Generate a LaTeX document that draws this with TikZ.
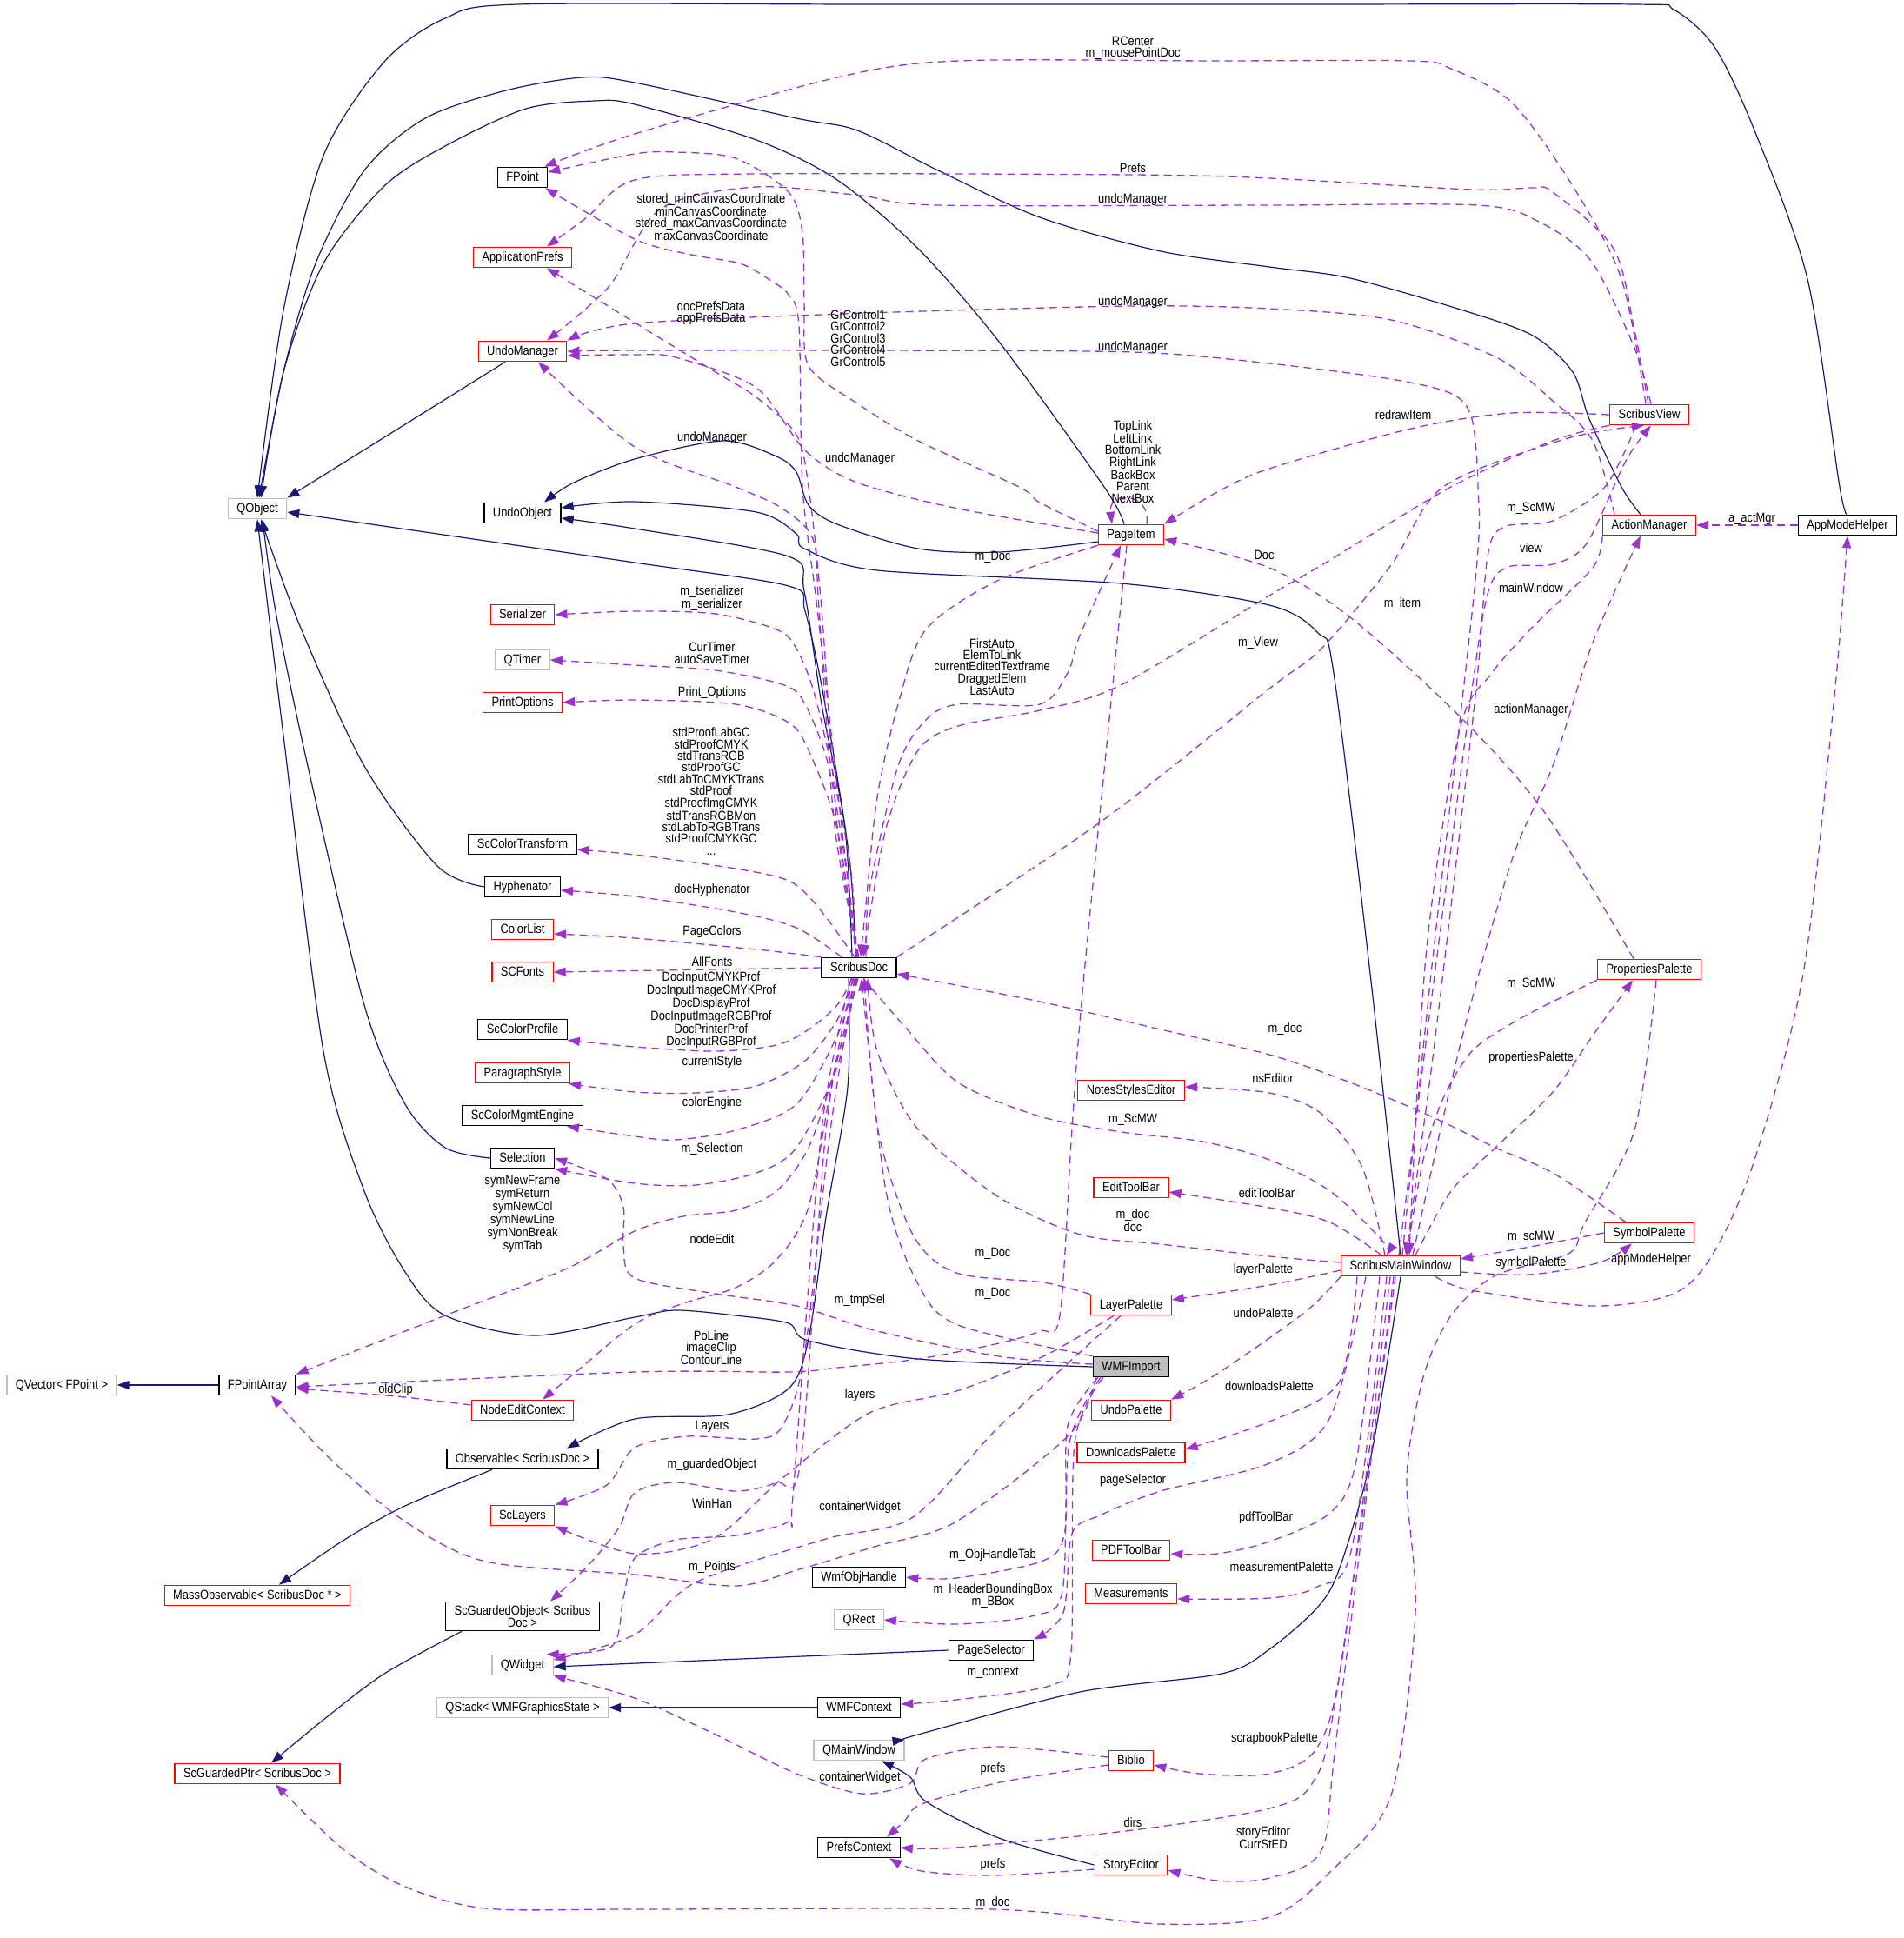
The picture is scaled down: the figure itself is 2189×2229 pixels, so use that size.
\documentclass[tikz,border=0pt]{standalone}
\usepackage{fontspec}
\setmainfont{Liberation Sans}[FakeStretch=0.86]
\usetikzlibrary{arrows.meta}
\definecolor{navy}{HTML}{191970}
\definecolor{orch}{HTML}{9A32CD}
\definecolor{graybd}{HTML}{BFBFBF}
\newcommand{\dfont}{\fontsize{15}{13.4}\selectfont}
\begin{document}
\begin{tikzpicture}[x=1pt,y=-1pt,
 cbox/.style={draw=black, line width=1.2pt, inner xsep=10pt, inner ysep=0pt, minimum height=23.5pt, text height=11pt, text depth=3pt, font=\dfont},
 rbox/.style={cbox, draw=red},
 gbox/.style={cbox, draw=graybd},
 sbox/.style={draw=black, line width=1.2pt, inner xsep=10pt, inner ysep=4pt, align=center, font=\dfont},
 lab/.style={inner sep=0pt, align=center, font=\dfont},
 inh/.style={draw=navy, line width=1.2pt, -{Triangle[length=14pt,width=10pt]}},
 ue/.style={draw=orch, line width=1.3pt, dash pattern=on 9pt off 6pt, -{Triangle[length=14pt,width=10pt]}},
 ]
\useasboundingbox (0,0) rectangle (2189,2229);
% ---------- nodes ----------
\node[cbox] (FPoint) at (601,204) {FPoint};
\node[rbox] (AppPrefs) at (601,296) {ApplicationPrefs};
\node[rbox] (UndoMgr) at (601,404) {UndoManager};
\node[gbox] (QObject) at (296,585) {QObject};
\node[cbox] (UndoObj) at (601,590) {UndoObject};
\node[rbox] (Serializer) at (601,707) {Serializer};
\node[gbox] (QTimer) at (601,759) {QTimer};
\node[rbox] (PrintOpt) at (601,808) {PrintOptions};
\node[cbox] (ScCT) at (601,971) {ScColorTransform};
\node[cbox] (Hyph) at (601,1020) {Hyphenator};
\node[rbox] (ColorList) at (601,1069) {ColorList};
\node[rbox] (SCFonts) at (601,1118) {SCFonts};
\node[cbox] (ScCP) at (601,1184) {ScColorProfile};
\node[rbox] (ParaStyle) at (601,1234) {ParagraphStyle};
\node[cbox] (ScCME) at (601,1283) {ScColorMgmtEngine};
\node[cbox] (Selection) at (601,1332) {Selection};
\node[gbox] (QVector) at (71,1593) {QVector< FPoint >};
\node[cbox] (FPA) at (296,1593) {FPointArray};
\node[rbox] (NEC) at (601,1622) {NodeEditContext};
\node[cbox] (Observable) at (601,1678) {Observable< ScribusDoc >};
\node[rbox] (ScLayers) at (601,1743) {ScLayers};
\node[rbox] (MassObs) at (296,1835) {MassObservable< ScribusDoc * >};
\node[sbox] (ScGO) at (601,1859) {ScGuardedObject< Scribus\\Doc >};
\node[gbox] (QWidget) at (601,1915) {QWidget};
\node[gbox] (QStack) at (601,1964) {QStack< WMFGraphicsState >};
\node[rbox] (ScGP) at (296,2040) {ScGuardedPtr< ScribusDoc >};
\node[cbox] (ScribusDoc) at (988,1113) {ScribusDoc};
\node[cbox] (WmfObj) at (988,1814) {WmfObjHandle};
\node[gbox] (QRect) at (988,1863) {QRect};
\node[cbox] (PageSel) at (1140,1898) {PageSelector};
\node[cbox] (WMFCtx) at (988,1964) {WMFContext};
\node[gbox] (QMainWin) at (988,2013) {QMainWindow};
\node[cbox] (PrefsCtx) at (988,2125) {PrefsContext};
\node[rbox] (PageItem) at (1301,615) {PageItem};
\node[rbox] (NSE) at (1301,1254) {NotesStylesEditor};
\node[rbox] (ETB) at (1301,1366) {EditToolBar};
\node[rbox] (LayerPal) at (1301,1501) {LayerPalette};
\node[cbox, fill=graybd] (WMFImport) at (1301,1572) {WMFImport};
\node[rbox] (UndoPal) at (1301,1622) {UndoPalette};
\node[rbox] (DLPal) at (1301,1671) {DownloadsPalette};
\node[rbox] (PDFTB) at (1301,1783) {PDFToolBar};
\node[rbox] (Meas) at (1301,1833) {Measurements};
\node[rbox] (Biblio) at (1301,2025) {Biblio};
\node[rbox] (StoryEd) at (1301,2145) {StoryEditor};
\node[rbox] (SMW) at (1611,1456) {ScribusMainWindow};
\node[rbox] (SView) at (1897,477) {ScribusView};
\node[rbox] (ActMgr) at (1897,604) {ActionManager};
\node[cbox] (AMH) at (2125,604) {AppModeHelper};
\node[rbox] (PropPal) at (1897,1115) {PropertiesPalette};
\node[rbox] (SymPal) at (1897,1418) {SymbolPalette};
% ---------- inheritance ----------
\draw[inh] (FPA.west) -- (QVector.east);
\draw[inh] ([xshift=-20pt]UndoMgr.south) -- (QObject.north east);
\draw[inh] plot[smooth] coordinates {(Hyph.west) (503,996) (419,881) (345,720) ([xshift=4pt]QObject.south)};
\draw[inh] plot[smooth] coordinates {(Selection.west) (512,1320) (466,1270) (419,1156) (354,881) (317,703) ([xshift=6pt]QObject.south)};
\draw[inh] plot[smooth] coordinates {(WMFImport.west) (1056,1563) (930,1542) (907,1522) (846,1513) (777,1507) (730,1515) (614,1536) (512,1513) (466,1463) (419,1370) (372,1209) (326,846) (QObject.south)};
\draw[inh] plot[smooth] coordinates {([xshift=-4pt]ScribusDoc.north) (977,988) (949,810) (926,703) (907,674) (730,647) ([yshift=-4pt]QObject.east)};
\draw[inh] plot[smooth] coordinates {([xshift=-8pt]ScribusDoc.north) (972,953) (945,810) (925,680) (907,640) (730,608) ([yshift=-6pt]UndoObj.east)};
\draw[inh] plot[smooth] coordinates {(SMW.north) (1576,1120) (1534,774) (1516,728) (1460,696) (1289,671) (1009,656) (925,631) (916,614) (870,589) (730,577) ([yshift=6pt]UndoObj.east)};
\draw[inh] plot[smooth] coordinates {([yshift=-8pt]PageItem.west) (1149,635) (1056,631) (963,603) (930,581) (916,543) (893,525) (832,507) (730,528) (660,555) ([xshift=25pt]UndoObj.north)};
\draw[inh] plot[smooth] coordinates {([xshift=-8pt]PageItem.north) (1270,560) (1149,393) (1056,286) (963,207) (870,161) (730,120) (684,116) (605,125) (512,168) (442,214) (372,303) (326,428) ([xshift=4pt]QObject.north)};
\draw[inh] plot[smooth] coordinates {([xshift=-10pt]ActMgr.north) (1865,560) (1828,482) (1809,428) (1763,386) (1683,357) (1553,320) (1460,307) (1335,289) (1196,250) (1079,196) (986,150) (916,136) (730,95) (670,89) (582,104) (489,136) (419,196) (363,303) (326,428) ([xshift=2pt]QObject.north)};
\draw[inh] plot[smooth] coordinates {(AMH.north) (2116,560) (2079,321) (2018,150) (1972,54) (1925,11) (1880,5) (1500,5) (1000,5) (596,5) (512,21) (442,71) (372,179) (326,357) (QObject.north)};
\draw[inh] plot[smooth] coordinates {([xshift=-12pt]ScribusDoc.south) (975,1250) (950,1400) (930,1540) (907,1597) (837,1627) (730,1632) ([xshift=51pt]Observable.north)};
\draw[inh] plot[smooth] coordinates {([xshift=-35pt]Observable.south) (466,1732) (396,1771) ([xshift=25pt]MassObs.north)};
\draw[inh] plot[smooth] coordinates {([xshift=-70pt]ScGO.south) (442,1925) (372,1978) ([xshift=16pt]ScGP.north)};
\draw[inh] (PageSel.west) -- ([yshift=-2pt]QWidget.east);
\draw[inh] (WMFCtx.west) -- (QStack.east);
\draw[inh] plot[smooth] coordinates {(SMW.south) (1576,1680) (1541,1803) (1516,1848) (1460,1897) (1405,1925) (1242,1946) (1056,1995) (QMainWin.north east)};
\draw[inh] plot[smooth] coordinates {(StoryEd.west) (1149,2114) (1065,2072) (1047,2044) ([xshift=26pt]QMainWin.south)};
% ---------- usage: ScribusDoc to left column ----------
\draw[ue] plot[smooth] coordinates {([xshift=-2pt]ScribusDoc.north) (968,950) (940,700) (923,560) (919,375) (907,339) (884,321) (851,303) (795,293) (730,275) ([xshift=-3pt]FPoint.south east)};
\draw[ue] plot[smooth] coordinates {([xshift=-1pt]ScribusDoc.north) (963,950) (945,700) (930,560) (916,500) (870,457) (823,428) (730,371) ([xshift=28pt]AppPrefs.south)};
\draw[ue] plot[smooth] coordinates {(ScribusDoc.north) (960,950) (942,700) (935,620) (900,585) (846,560) (730,514) ([xshift=18pt]UndoMgr.south)};
\draw[ue] plot[smooth] coordinates {([xshift=-3pt]ScribusDoc.north) (977,988) (940,810) (916,746) (893,724) (823,706) (730,703) (Serializer.east)};
\draw[ue] plot[smooth] coordinates {([xshift=-3pt]ScribusDoc.north) (975,1010) (953,881) (926,810) (902,788) (823,771) (730,765) (QTimer.east)};
\draw[ue] plot[smooth] coordinates {([xshift=-3pt]ScribusDoc.north) (963,953) (930,863) (907,831) (846,810) (730,805) (PrintOpt.east)};
\draw[ue] plot[smooth] coordinates {([xshift=-5pt]ScribusDoc.north) (940,1042) (907,1013) (846,999) (730,983) ([yshift=-6pt]ScCT.east)};
\draw[ue] plot[smooth] coordinates {([xshift=-20pt]ScribusDoc.north) (916,1067) (846,1049) (730,1031) ([yshift=-4pt]Hyph.east)};
\draw[ue] plot[smooth] coordinates {(ScribusDoc.north west) (870,1092) (730,1079) ([yshift=-5pt]ColorList.east)};
\draw[ue] (ScribusDoc.west) -- (SCFonts.east);
\draw[ue] plot[smooth] coordinates {([xshift=-8pt]ScribusDoc.south) (963,1156) (930,1184) (893,1202) (823,1209) (730,1204) (ScCP.south east)};
\draw[ue] plot[smooth] coordinates {([xshift=-6pt]ScribusDoc.south) (963,1173) (926,1220) (870,1249) (800,1257) (730,1256) ([xshift=-2pt]ParaStyle.south east)};
\draw[ue] plot[smooth] coordinates {([xshift=-4pt]ScribusDoc.south) (963,1191) (916,1270) (846,1300) (777,1311) (730,1307) ([xshift=51pt]ScCME.south)};
\draw[ue] plot[smooth] coordinates {([xshift=-3pt]ScribusDoc.south) (963,1227) (916,1320) (870,1349) (800,1363) (730,1361) (Selection.south east)};
\draw[ue] plot[smooth] coordinates {([xshift=-2pt]ScribusDoc.south) (960,1230) (930,1320) (893,1370) (846,1392) (786,1399) (730,1416) (652,1459) (512,1513) (FPA.north east)};
\draw[ue] plot[smooth] coordinates {([xshift=-1pt]ScribusDoc.south) (958,1240) (930,1388) (893,1449) (846,1481) (786,1499) (730,1523) (660,1580) ([xshift=23pt]NEC.north)};
\draw[ue] plot[smooth] coordinates {([xshift=-5pt]ScribusDoc.south) (955,1300) (925,1560) (900,1640) (870,1655) (790,1652) (730,1665) (698,1708) (ScLayers.north east)};
\draw[ue] plot[smooth] coordinates {([xshift=-7pt]ScribusDoc.south) (950,1300) (921,1680) (893,1705) (846,1715) (777,1705) (730,1717) (712,1757) (675,1802) ([xshift=32pt]ScGO.north)};
\draw[ue] plot[smooth] coordinates {([xshift=-9pt]ScribusDoc.south) (945,1300) (912,1720) (907,1750) (846,1766) (777,1771) (730,1792) (717,1838) (703,1894) ([xshift=-8pt]QWidget.north east)};
\draw[ue] plot[smooth] coordinates {([xshift=5pt]ScribusDoc.south) (1040,1180) (1102,1245) (1196,1284) (1290,1302) (1383,1313) (1460,1334) (1530,1370) (1590,1427) ([xshift=-16pt]SMW.north)};
% ---------- PageItem / ScribusView / ScribusDoc ----------
\draw[ue] plot[smooth] coordinates {(PageItem.south west) (1149,667) (1065,724) (1033,810) (1009,917) (995,1050) ([xshift=2pt]ScribusDoc.north)};
\draw[ue] plot[smooth] coordinates {([xshift=8pt]ScribusDoc.north) (1000,1024) (1033,881) (1065,828) (1102,810) (1196,810) (1228,774) (1242,731) ([xshift=-12pt]PageItem.south)};
\draw[ue] plot[smooth] coordinates {(SView.south west) (1786,507) (1669,560) (1520,650) (1460,685) (1289,788) (1196,817) (1102,835) (1056,863) (1019,953) ([xshift=5pt]ScribusDoc.north)};
\draw[ue] plot[smooth] coordinates {(ScribusDoc.north east) (1265,946) (1460,792) (1520,746) (1600,650) (1660,560) (1800,505) ([xshift=-6pt]SView.south)};
\draw[ue] plot[smooth] coordinates {(SView.west) (1739,475) (1623,493) (1460,539) (1400,566) (PageItem.north east)};
\draw[ue] ([xshift=18pt]PageItem.north) .. controls +(5,-38) and +(-5,-38) .. ([xshift=-22pt]PageItem.north);
\draw[ue] plot[smooth] coordinates {([yshift=4pt]PageItem.west) (1196,578) (1172,560) (1056,507) (986,464) (930,421) (925,350) (923,268) (907,221) (846,182) (777,175) (730,177) ([yshift=6pt]FPoint.east)};
\draw[ue] plot[smooth] coordinates {([yshift=2pt]PageItem.west) (1102,585) (986,555) (926,518) (870,446) (777,411) (730,408) ([yshift=-5pt]UndoMgr.east)};
\draw[ue] plot[smooth] coordinates {([xshift=-4pt]SView.north) (1865,321) (1809,214) (1739,118) (1669,79) (1623,70) (1400,70) (1102,70) (963,89) (730,154) ([xshift=-4pt]FPoint.north east)};
\draw[ue] plot[smooth] coordinates {([xshift=-1pt]SView.north) (1880,380) (1856,286) (1786,221) (1763,216) (1693,218) (1460,205) (1303,201) (870,200) (730,207) (675,250) ([xshift=28pt]AppPrefs.north)};
\draw[ue] plot[smooth] coordinates {([xshift=2pt]SView.north) (1880,400) (1830,300) (1770,255) (1700,236) (1460,236) (1079,236) (990,225) (870,215) (760,240) (700,330) ([xshift=28pt]UndoMgr.north)};
\draw[ue] plot[smooth] coordinates {([xshift=-40pt]ActMgr.north) (1832,507) (1786,461) (1721,411) (1600,368) (1460,355) (1303,352) (1000,360) (730,372) (UndoMgr.north east)};
\draw[ue] plot[smooth] coordinates {([xshift=2pt]SMW.north) (1646,1120) (1697,667) (1700,560) (1693,482) (1670,453) (1600,436) (1460,418) (1303,405) (1000,403) (730,403) (UndoMgr.east)};
% ---------- right part ----------
\draw[ue] plot[smooth] coordinates {([xshift=-15pt]SView.south) (1846,560) (1786,599) (1730,606) (1711,640) (1697,800) (1650,1200) ([xshift=6pt]SMW.north)};
\draw[ue] plot[smooth] coordinates {([xshift=-2pt]SMW.north) (1640,1200) (1692,800) (1712,680) (1735,652) (1786,649) (1825,625) (1870,530) ([xshift=2pt]SView.south)};
\draw[ue] plot[smooth] coordinates {(ActMgr.south west) (1832,653) (1763,721) (1716,774) (1679,839) (1640,1100) ([xshift=10pt]SMW.north)};
\draw[ue] plot[smooth] coordinates {([xshift=14pt]SMW.north) (1680,1200) (1739,989) (1786,881) (1832,739) ([xshift=-10pt]ActMgr.south)};
\draw[ue] (AMH.west) -- (ActMgr.east);
\draw[ue] plot[smooth] coordinates {([xshift=40pt]SMW.south) (1692,1484) (1832,1502) (1925,1488) (1971,1441) (2018,1334) (2074,1120) (2110,800) (AMH.south)};
\draw[ue] plot[smooth] coordinates {([xshift=17pt]SMW.north) (1669,1370) (1720,1320) (1786,1256) (1832,1191) ([xshift=-19pt]PropPal.south)};
\draw[ue] plot[smooth] coordinates {(PropPal.south west) (1786,1152) (1739,1177) (1693,1209) (1660,1263) (1637,1334) ([xshift=7pt]SMW.north)};
\draw[ue] plot[smooth] coordinates {([xshift=-18pt]PropPal.north) (1777,935) (1679,824) (1553,710) (1460,653) ([yshift=-5pt]PageItem.east)};
\draw[ue] plot[smooth] coordinates {([xshift=8pt]PropPal.south) (1880,1300) (1823,1406) (1804,1442) (1720,1467) (1669,1513) (1637,1584) (1618,1700) (1628,1855) (1600,2065) (1530,2153) (1460,2205) (1335,2213) (1142,2196) (730,2196) (559,2195) (466,2170) (396,2128) ([xshift=21pt]ScGP.south)};
\draw[ue] plot[smooth] coordinates {(SymPal.west) (1760,1434) ([yshift=8pt]SMW.east)};
\draw[ue] plot[smooth] coordinates {([yshift=-7pt]SMW.east) (1760,1466) (1840,1452) ([xshift=-20pt]SymPal.south)};
\draw[ue] plot[smooth] coordinates {([xshift=-27pt]SymPal.north) (1786,1349) (1720,1320) (1646,1284) (1553,1245) (1460,1213) (1335,1184) (1196,1152) ([yshift=-7pt]ScribusDoc.east)};
\draw[ue] plot[smooth] coordinates {([yshift=4pt]SMW.west) (1460,1445) (1335,1431) (1243,1420) (1149,1377) (1056,1299) (1009,1209) ([xshift=10pt]ScribusDoc.south)};
\draw[ue] plot[smooth] coordinates {([xshift=-18pt]SMW.north) (1567,1343) (1520,1281) (1460,1257) ([yshift=4pt]NSE.east)};
\draw[ue] plot[smooth] coordinates {([xshift=-22pt]SMW.north) (1530,1406) (1460,1389) ([yshift=-5pt]ETB.east)};
\draw[ue] plot[smooth] coordinates {([yshift=-5pt]SMW.west) (1460,1478) ([yshift=6pt]LayerPal.east)};
\draw[ue] plot[smooth] coordinates {(SMW.south west) (1500,1510) (1400,1580) (UndoPal.north east)};
\draw[ue] plot[smooth] coordinates {([xshift=-50pt]SMW.south) (1540,1590) (1460,1635) ([yshift=4pt]DLPal.east)};
\draw[ue] plot[smooth] coordinates {([xshift=-40pt]SMW.south) (1530,1630) (1460,1683) (1335,1715) (1265,1743) (1233,1764) (1223,1855) (PageSel.north east)};
\draw[ue] plot[smooth] coordinates {([xshift=-24pt]SMW.south) (1560,1680) (1530,1740) (1460,1773) (1400,1787) ([yshift=-4pt]PDFTB.east)};
\draw[ue] plot[smooth] coordinates {([xshift=-16pt]SMW.south) (1555,1780) (1515,1825) (1460,1838) ([yshift=-6pt]Meas.east)};
\draw[ue] plot[smooth] coordinates {([xshift=-12pt]SMW.south) (1545,1900) (1515,2010) (1460,2040) (1380,2040) ([yshift=-5pt]Biblio.east)};
\draw[ue] plot[smooth] coordinates {([xshift=-8pt]SMW.south) (1537,2000) (1520,2128) (1460,2160) (1400,2163) ([yshift=-6pt]StoryEd.east)};
\draw[ue] plot[smooth] coordinates {([xshift=-6pt]SMW.south) (1537,1950) (1510,2050) (1460,2080) (1303,2105) (1100,2125) (PrefsCtx.east)};
% ---------- middle ----------
\draw[ue] plot[smooth] coordinates {(LayerPal.north west) (1200,1475) (1100,1464) (1050,1420) (1010,1300) ([xshift=6pt]ScribusDoc.south)};
\draw[ue] plot[smooth] coordinates {(WMFImport.north west) (1102,1524) (1056,1477) (1019,1370) ([xshift=3pt]ScribusDoc.south)};
\draw[ue] plot[smooth] coordinates {([yshift=3pt]WMFImport.west) (1149,1560) (1009,1531) (916,1502) (823,1488) (730,1470) (717,1434) (717,1388) (698,1356) (Selection.east)};
\draw[ue] plot[smooth] coordinates {([xshift=-5pt]PageItem.south) (1247,1120) (1233,1298) (1219,1513) (1196,1531) (1149,1545) (1056,1563) (963,1573) (907,1578) (730,1578) ([yshift=-2pt]FPA.east)};
\draw[ue] plot[smooth] coordinates {([yshift=6pt]NEC.west) (456,1606) ([yshift=-4pt]FPA.east)};
\draw[ue] plot[smooth] coordinates {([xshift=-40pt]WMFImport.south) (1230,1650) (1100,1750) (1009,1778) (916,1806) (846,1824) (730,1811) (559,1796) (466,1750) (382,1680) ([xshift=16pt]FPA.south)};
\draw[ue] plot[smooth] coordinates {([xshift=-20pt]LayerPal.south) (1200,1560) (1100,1600) (1000,1625) (900,1700) (820,1770) (730,1787) (ScLayers.south east)};
\draw[ue] plot[smooth] coordinates {([xshift=-12pt]LayerPal.south) (1150,1640) (1050,1745) (950,1770) (800,1820) (730,1880) ([yshift=6pt]QWidget.east)};
\draw[ue] plot[smooth] coordinates {([xshift=-38pt]WMFImport.south) (1228,1640) (1225,1760) (1200,1795) (1100,1815) (WmfObj.east)};
\draw[ue] plot[smooth] coordinates {([xshift=-35pt]WMFImport.south) (1230,1660) (1222,1830) (1190,1858) (1100,1868) (QRect.east)};
\draw[ue] plot[smooth] coordinates {([xshift=-32pt]WMFImport.south) (1236,1660) (1232,1900) (1210,1938) (1100,1955) ([yshift=4pt]WMFCtx.east)};
\draw[ue] plot[smooth] coordinates {([yshift=4pt]Biblio.west) (1149,2009) (1065,2023) (1047,2051) (991,2063) (916,2040) (823,1995) (730,1953) (QWidget.south east)};
\draw[ue] plot[smooth] coordinates {([yshift=-5pt]Biblio.west) (1150,2050) (1060,2075) (1040,2095) ([xshift=32pt]PrefsCtx.north)};
\draw[ue] plot[smooth] coordinates {([yshift=-5pt]StoryEd.west) (1142,2157) (1060,2152) ([xshift=35pt]PrefsCtx.south)};
% ---------- labels ----------
\node[lab] (l1) at (1303,55.5) {RCenter\\m\_mousePointDoc};
\node[lab] (l2) at (1303,193) {Prefs};
\node[lab] (l3) at (1303,230) {undoManager};
\node[lab] (l4) at (818,249.5) {stored\_minCanvasCoordinate\\minCanvasCoordinate\\stored\_maxCanvasCoordinate\\maxCanvasCoordinate};
\node[lab] (l5) at (818,360) {docPrefsData\\appPrefsData};
\node[lab] (l6) at (987,389) {GrControl1\\GrControl2\\GrControl3\\GrControl4\\GrControl5};
\node[lab] (l7) at (1303,348) {undoManager};
\node[lab] (l8) at (1303,400) {undoManager};
\node[lab] (l9) at (819,504) {undoManager};
\node[lab] (l10) at (989,528) {undoManager};
\node[lab] (l11) at (1303,531) {TopLink\\LeftLink\\BottomLink\\RightLink\\BackBox\\Parent\\NextBox};
\node[lab] (l12) at (1614,477) {redrawItem};
\node[lab] (l13) at (1142,641) {m\_Doc};
\node[lab] (l14) at (1454,638) {Doc};
\node[lab] (l15) at (1761,585) {m\_ScMW};
\node[lab] (l16) at (1761,630) {view};
\node[lab] (l17) at (1761,676) {mainWindow};
\node[lab] (l18) at (1613,695) {m\_item};
\node[lab] (l19) at (2015,597) {a\_actMgr};
\node[lab] (l20) at (819,688) {m\_tserializer\\m\_serializer};
\node[lab] (l21) at (819,751) {CurTimer\\autoSaveTimer};
\node[lab] (l22) at (819,797) {Print\_Options};
\node[lab] (l23) at (1141,767) {FirstAuto\\ElemToLink\\currentEditedTextframe\\DraggedElem\\LastAuto};
\node[lab] (l24) at (1447,740) {m\_View};
\node[lab] (l25) at (1761,817) {actionManager};
\node[lab] (l26) at (818,910) {stdProofLabGC\\stdProofCMYK\\stdTransRGB\\stdProofGC\\stdLabToCMYKTrans\\stdProof\\stdProofImgCMYK\\stdTransRGBMon\\stdLabToRGBTrans\\stdProofCMYKGC\\...};
\node[lab] (l27) at (819,1024) {docHyphenator};
\node[lab] (l28) at (819,1072) {PageColors};
\node[lab] (l29) at (819,1106) {AllFonts};
\node[lab] (l30) at (818,1161.5) {DocInputCMYKProf\\DocInputImageCMYKProf\\DocDisplayProf\\DocInputImageRGBProf\\DocPrinterProf\\DocInputRGBProf};
\node[lab] (l31) at (1761,1132) {m\_ScMW};
\node[lab] (l32) at (1478,1184) {m\_doc};
\node[lab] (l33) at (1761,1217) {propertiesPalette};
\node[lab] (l34) at (819,1222) {currentStyle};
\node[lab] (l35) at (1464,1240) {nsEditor};
\node[lab] (l36) at (819,1269) {colorEngine};
\node[lab] (l37) at (1303,1288) {m\_ScMW};
\node[lab] (l38) at (819,1322) {m\_Selection};
\node[lab] (l39) at (601,1396.5) {symNewFrame\\symReturn\\symNewCol\\symNewLine\\symNonBreak\\symTab};
\node[lab] (l40) at (1457,1372) {editToolBar};
\node[lab] (l41) at (1303,1403.5) {m\_doc\\doc};
\node[lab] (l42) at (1761,1423) {m\_scMW};
\node[lab] (l43) at (819,1425) {nodeEdit};
\node[lab] (l44) at (1142,1442) {m\_Doc};
\node[lab] (l45) at (1761,1453) {symbolPalette};
\node[lab] (l46) at (1899,1449) {appModeHelper};
\node[lab] (l47) at (1453,1461) {layerPalette};
\node[lab] (l48) at (1142,1488) {m\_Doc};
\node[lab] (l49) at (989,1496) {m\_tmpSel};
\node[lab] (l50) at (1453,1510) {undoPalette};
\node[lab] (l51) at (818,1550) {PoLine\\imageClip\\ContourLine};
\node[lab] (l52) at (1460,1594) {downloadsPalette};
\node[lab] (l53) at (455,1599) {oldClip};
\node[lab] (l54) at (989,1605) {layers};
\node[lab] (l55) at (819,1641) {Layers};
\node[lab] (l56) at (819,1685) {m\_guardedObject};
\node[lab] (l57) at (1303,1703) {pageSelector};
\node[lab] (l58) at (819,1729) {WinHan};
\node[lab] (l59) at (989,1734) {containerWidget};
\node[lab] (l60) at (1456,1746) {pdfToolBar};
\node[lab] (l61) at (1142,1789) {m\_ObjHandleTab};
\node[lab] (l62) at (819,1803) {m\_Points};
\node[lab] (l63) at (1474,1802) {measurementPalette};
\node[lab] (l64) at (1142,1835.5) {m\_HeaderBoundingBox\\m\_BBox};
\node[lab] (l65) at (1142,1924) {m\_context};
\node[lab] (l66) at (1466,2000) {scrapbookPalette};
\node[lab] (l67) at (1142,2035) {prefs};
\node[lab] (l68) at (989,2045) {containerWidget};
\node[lab] (l69) at (1303,2096) {dirs};
\node[lab] (l70) at (1453,2113.5) {storyEditor\\CurrStED};
\node[lab] (l71) at (1142,2145) {prefs};
\node[lab] (l72) at (1142,2189) {m\_doc};
\end{tikzpicture}
\end{document}
